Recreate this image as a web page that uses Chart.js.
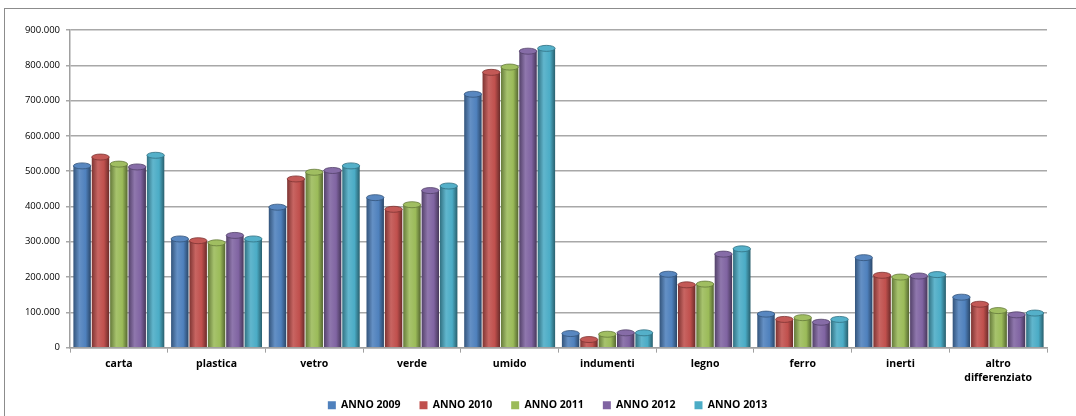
<!DOCTYPE html>
<html>
<head>
<meta charset="utf-8">
<script src="https://cdn.jsdelivr.net/npm/chart.js@4.4.1/dist/chart.umd.min.js"></script>
<style>
html, body { margin: 0; padding: 0; background: #fff; overflow: hidden; }
#frame { position: absolute; left: 4px; top: 8px; width: 1100px; height: 440px; border: 1px solid #8c8c8c; }
#wrap { position: absolute; left: 0; top: 0; width: 1076px; height: 416px; }
</style>
</head>
<body>
<div id="frame"></div>
<div id="wrap"><canvas id="rifiutiChart"></canvas></div>
<script>
const categorie = ['carta', 'plastica', 'vetro', 'verde', 'umido', 'indumenti', 'legno', 'ferro', 'inerti', ['altro', 'differenziato']];
const anni = ['ANNO 2009', 'ANNO 2010', 'ANNO 2011', 'ANNO 2012', 'ANNO 2013'];
const anno2009 = [515000, 308000, 398000, 425000, 718000, 40000, 208000, 95000, 255000, 143000];
const anno2010 = [540000, 303000, 478000, 392000, 780000, 23000, 178000, 80000, 205000, 123000];
const anno2011 = [520000, 297000, 497000, 405000, 795000, 38000, 180000, 85000, 200000, 105000];
const anno2012 = [512000, 318000, 502000, 445000, 840000, 42000, 265000, 72000, 203000, 93000];
const anno2013 = [545000, 308000, 515000, 458000, 848000, 42000, 280000, 80000, 207000, 98000];
const colori = ['#4F81BD', '#C0504D', '#9BBB59', '#8064A2', '#4BACC6'];

function shade(hex, f) {
    const n = parseInt(hex.slice(1), 16);
    let r = n >> 16, g = (n >> 8) & 255, b = n & 255;
    const t = f < 0 ? 0 : 255, p = Math.abs(f);
    r = Math.round((t - r) * p + r);
    g = Math.round((t - g) * p + g);
    b = Math.round((t - b) * p + b);
    return 'rgb(' + r + ',' + g + ',' + b + ')';
}

// shading a "cilindro" per ogni barra + tappo ellittico in cima
const cilindri = {
    id: 'cilindri',
    beforeDatasetsDraw(chart) {
        const ctx = chart.ctx;
        chart.data.datasets.forEach((ds, i) => {
            const c = colori[i];
            chart.getDatasetMeta(i).data.forEach(bar => {
                const x0 = bar.x - bar.width / 2, x1 = bar.x + bar.width / 2;
                const g = ctx.createLinearGradient(x0, 0, x1, 0);
                g.addColorStop(0, shade(c, -0.35));
                g.addColorStop(0.35, shade(c, 0.12));
                g.addColorStop(0.7, c);
                g.addColorStop(1, shade(c, -0.45));
                bar.options.backgroundColor = g;
            });
        });
    },
    afterDatasetsDraw(chart) {
        const ctx = chart.ctx;
        chart.data.datasets.forEach((ds, i) => {
            const c = colori[i];
            chart.getDatasetMeta(i).data.forEach(bar => {
                ctx.save();
                ctx.beginPath();
                ctx.ellipse(bar.x, bar.y, bar.width / 2, 3, 0, 0, Math.PI * 2);
                ctx.fillStyle = shade(c, 0.05);
                ctx.fill();
                ctx.lineWidth = 0.8;
                ctx.strokeStyle = shade(c, -0.35);
                ctx.stroke();
                ctx.restore();
            });
        });
    }
};

// legenda: altezza ridotta nel layout, poi spostata dove sta nell'originale
const legendaPos = {
    id: 'legendaPos',
    beforeInit(chart) {
        const leg = chart.legend;
        const fit = leg.fit;
        leg.fit = function () {
            fit.call(this);
            this.height = 27;
        };
    },
    beforeDraw(chart) {
        const leg = chart.legend;
        leg.left = 24;
        leg.right = 1071;
        leg.top = 381;
    }
};

const font = 'Open Sans';
const serie = [anno2009, anno2010, anno2011, anno2012, anno2013];

const rifiutiChart = new Chart(document.getElementById('rifiutiChart').getContext('2d'), {
    type: 'bar',
    data: {
        labels: categorie,
        datasets: serie.map((valori, i) => ({
            label: anni[i],
            data: valori,
            backgroundColor: (c) => colori[c.datasetIndex],
            borderWidth: 0,
            categoryPercentage: 0.94,
            barPercentage: 0.95
        }))
    },
    options: {
        responsive: true,
        maintainAspectRatio: false,
        animation: false,
        layout: { padding: { top: 30, right: 29, bottom: 0, left: 0 } },
        scales: {
            x: {
                grid: { offset: true, drawOnChartArea: false, color: '#a0a0a0', tickLength: 5 },
                border: { color: '#a0a0a0', width: 1.5 },
                ticks: { color: '#000', font: { family: font, size: 10.5, weight: 'bold', lineHeight: 1.35 }, padding: 4, maxRotation: 0 }
            },
            y: {
                min: 0,
                max: 900000,
                afterFit(scale) { scale.width = 70; },
                grid: { color: '#a8a8a8', lineWidth: 1.5, tickLength: 4 },
                border: { color: '#a0a0a0', width: 1.5 },
                ticks: {
                    stepSize: 100000,
                    color: '#000',
                    padding: 6,
                    font: { family: font, size: 9.5 },
                    callback: v => String(v).replace(/\B(?=(\d{3})+(?!\d))/g, '.')
                }
            }
        },
        plugins: {
            legend: {
                position: 'bottom',
                labels: { boxWidth: 8, boxHeight: 8, padding: 19, color: '#000', font: { family: font, size: 10.5, weight: 'bold' } }
            },
            tooltip: { enabled: false }
        }
    },
    plugins: [cilindri, legendaPos]
});
</script>
</body>
</html>
